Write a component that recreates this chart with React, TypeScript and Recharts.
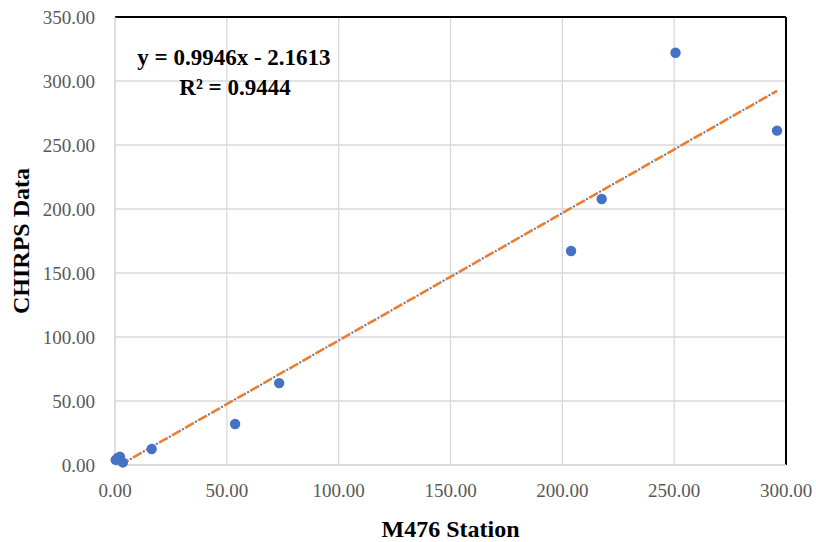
import React from "react";
import {
  ScatterChart,
  Scatter,
  XAxis,
  YAxis,
  CartesianGrid,
  ReferenceLine,
  Customized,
} from "recharts";

const stationValues = [0.3, 1.2, 2.2, 3.5, 16.4, 53.7, 73.4, 203.9, 217.6, 250.6, 296.0];
const chirpsValues = [4.0, 5.5, 6.5, 2.0, 12.5, 32.0, 64.0, 167.2, 207.8, 322.1, 261.2];
const trendX = [2.2, 296.0];
const trendY = [0, 292.3];
const xTicks = [0, 50, 100, 150, 200, 250, 300];
const yTicks = [0, 50, 100, 150, 200, 250, 300, 350];
const equationText = "y = 0.9946x - 2.1613";
const r2Text = "R² = 0.9444";

const points = stationValues.map((x, i) => ({ x, y: chirpsValues[i] }));
const trend = trendX.map((x, i) => ({ x, y: trendY[i] }));

const FONT = "'Liberation Serif', 'DejaVu Serif', serif";

const Dot = (props: any) => (
  <circle cx={props.cx} cy={props.cy} r={5.2} fill="#4472C4" />
);

const Equation = () => (
  <g>
    <text
      x={234}
      y={65}
      textAnchor="middle"
      fontFamily={FONT}
      fontWeight="bold"
      fontSize={23}
      fill="#000"
    >
      {equationText}
    </text>
    <text
      x={235}
      y={95}
      textAnchor="middle"
      fontFamily={FONT}
      fontWeight="bold"
      fontSize={23}
      fill="#000"
    >
      {r2Text}
    </text>
  </g>
);

export default function App() {
  return (
    <div style={{ position: "absolute", left: 0, top: 0 }}>
      <ScatterChart
        width={816}
        height={542}
        margin={{ top: 17, right: 30, left: 0, bottom: 0 }}
      >
        <CartesianGrid stroke="#d9d9d9" strokeWidth={1.3} />
        <XAxis
          type="number"
          dataKey="x"
          domain={[0, 300]}
          ticks={xTicks}
          tickFormatter={(v: number) => v.toFixed(2)}
          height={77}
          axisLine={{ stroke: "#d9d9d9", strokeWidth: 1.3 }}
          tickLine={false}
          tickSize={6}
          tickMargin={13}
          tick={{ fill: "#595959", fontSize: 19, fontFamily: FONT }}
          label={{
            value: "M476 Station",
            position: "insideBottom",
            offset: 5,
            fill: "#000",
            fontSize: 24,
            fontWeight: "bold",
            fontFamily: FONT,
          }}
        />
        <YAxis
          type="number"
          dataKey="y"
          domain={[0, 350]}
          ticks={yTicks}
          tickFormatter={(v: number) => v.toFixed(2)}
          width={115}
          axisLine={{ stroke: "#d9d9d9", strokeWidth: 1.3 }}
          tickLine={false}
          tickSize={6}
          tickMargin={14}
          tick={{ fill: "#595959", fontSize: 19, fontFamily: FONT }}
          label={{
            value: "CHIRPS Data",
            angle: -90,
            position: "insideLeft",
            offset: 20,
            fill: "#000",
            fontSize: 24,
            fontWeight: "bold",
            fontFamily: FONT,
            style: { textAnchor: "middle" },
          }}
        />
        <ReferenceLine y={350} stroke="#000" strokeWidth={2} />
        <ReferenceLine x={300} stroke="#000" strokeWidth={2} />
        <Scatter
          data={trend}
          line={{ stroke: "#4472C4", strokeWidth: 2, strokeDasharray: "2 13", strokeDashoffset: -11.5 }}
          shape={() => null}
          isAnimationActive={false}
        />
        <Scatter
          data={trend}
          line={{ stroke: "#ED7D31", strokeWidth: 2.6, strokeDasharray: "10 5" }}
          shape={() => null}
          isAnimationActive={false}
        />
        <Scatter data={points} shape={Dot} isAnimationActive={false} />
        <Customized component={Equation} />
      </ScatterChart>
    </div>
  );
}
